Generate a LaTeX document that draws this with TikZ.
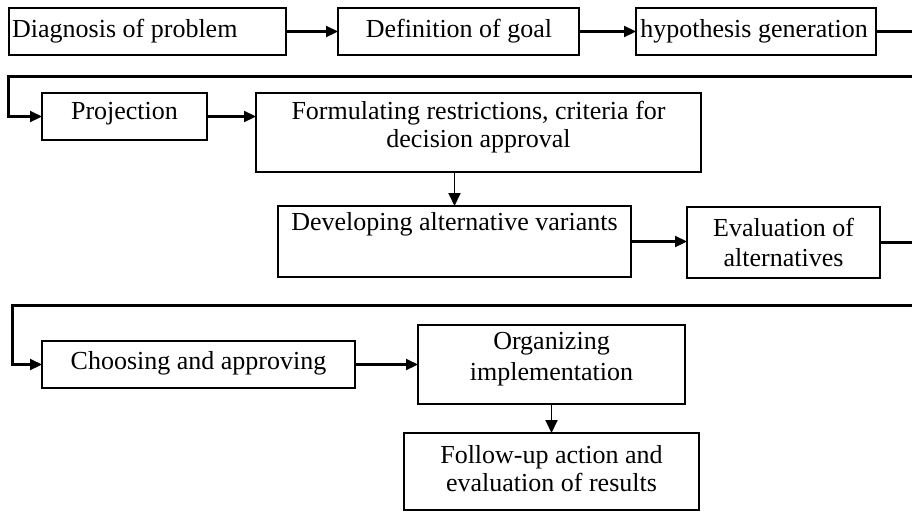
\documentclass[tikz,border=0pt]{standalone}
\usepackage{fontspec}
\setmainfont{Liberation Serif}
\usetikzlibrary{arrows.meta}
\begin{document}
\begin{tikzpicture}[x=1pt,y=-1pt,
  box/.style={draw, line width=1.3pt, inner sep=0pt, outer sep=0pt},
  txt/.style={inner sep=0pt, font=\fontsize{26}{29}\selectfont, align=center},
  conn/.style={line width=2.2pt, -{Triangle[length=12pt,width=11pt]}},
  vconn/.style={line width=1.9pt, -{Triangle[length=13pt,width=12pt]}}]
\useasboundingbox (0,0) rectangle (912,512);
\clip (0,0) rectangle (912,512);
\fill[white] (0,0) rectangle (912,512);
% boxes
\node[box, minimum width=277pt, minimum height=47pt] (A) at (147.5,31.5) {};
\node[box, minimum width=241pt, minimum height=47pt] (B) at (458.5,31.5) {};
\node[box, minimum width=240pt, minimum height=47pt] (C) at (756,31.5) {};
\node[box, minimum width=165pt, minimum height=47pt] (P) at (124.5,116.5) {};
\node[box, minimum width=445pt, minimum height=79pt] (F) at (478.5,132.5) {};
\node[box, minimum width=353pt, minimum height=71pt] (D) at (454.5,241.5) {};
\node[box, minimum width=193pt, minimum height=71pt] (E) at (783.5,242.5) {};
\node[box, minimum width=313pt, minimum height=47pt] (Ch) at (198.5,364.5) {};
\node[box, minimum width=267pt, minimum height=79pt] (O) at (551.5,364.5) {};
\node[box, minimum width=295pt, minimum height=77pt] (Fu) at (551.5,471.5) {};
% texts
\node[txt, anchor=west] (At) at (12,31) {Diagnosis of problem};
\node[txt] (Bt) at (459,31) {Definition of goal};
\node[txt] (Ct) at (754,31) {hypothesis generation};
\node[txt] (Pt) at (124.5,114) {Projection};
\node[txt, font=\fontsize{26}{28}\selectfont] (Ft) at (478.5,127) {Formulating restrictions, criteria for\\decision approval};
\node[txt] (Dt) at (454.5,224) {Developing alternative variants};
\node[txt, font=\fontsize{26}{30}\selectfont] (Et) at (783.5,242) {Evaluation of\\alternatives};
\node[txt] (Cht) at (198.5,363) {Choosing and approving};
\node[txt, font=\fontsize{26}{31}\selectfont] (Ot) at (551.5,359.5) {Organizing\\implementation};
\node[txt, font=\fontsize{26}{28}\selectfont] (Fut) at (551.5,469) {Follow-up action and\\evaluation of results};
% routing points
\coordinate (r1) at (930,76.5);
\coordinate (l1) at (8.5,76.5);
\coordinate (r2) at (930,305.5);
\coordinate (l2) at (12.5,305.5);
% connectors
\draw[conn] (A.east) -- (A.east -| B.west);
\draw[conn] (B.east) -- (B.east -| C.west);
\draw[conn] (C.east) -| (r1) -- (l1) |- (P.west);
\draw[conn] (P.east) -- (P.east -| F.west);
\draw[vconn] (F.south -| D.north) -- (D.north);
\draw[conn] (D.east) -- (D.east -| E.west);
\draw[conn] (E.east) -| (r2) -- (l2) |- (Ch.west);
\draw[conn] (Ch.east) -- (Ch.east -| O.west);
\draw[vconn] (O.south) -- (Fu.north);
\end{tikzpicture}
\end{document}
